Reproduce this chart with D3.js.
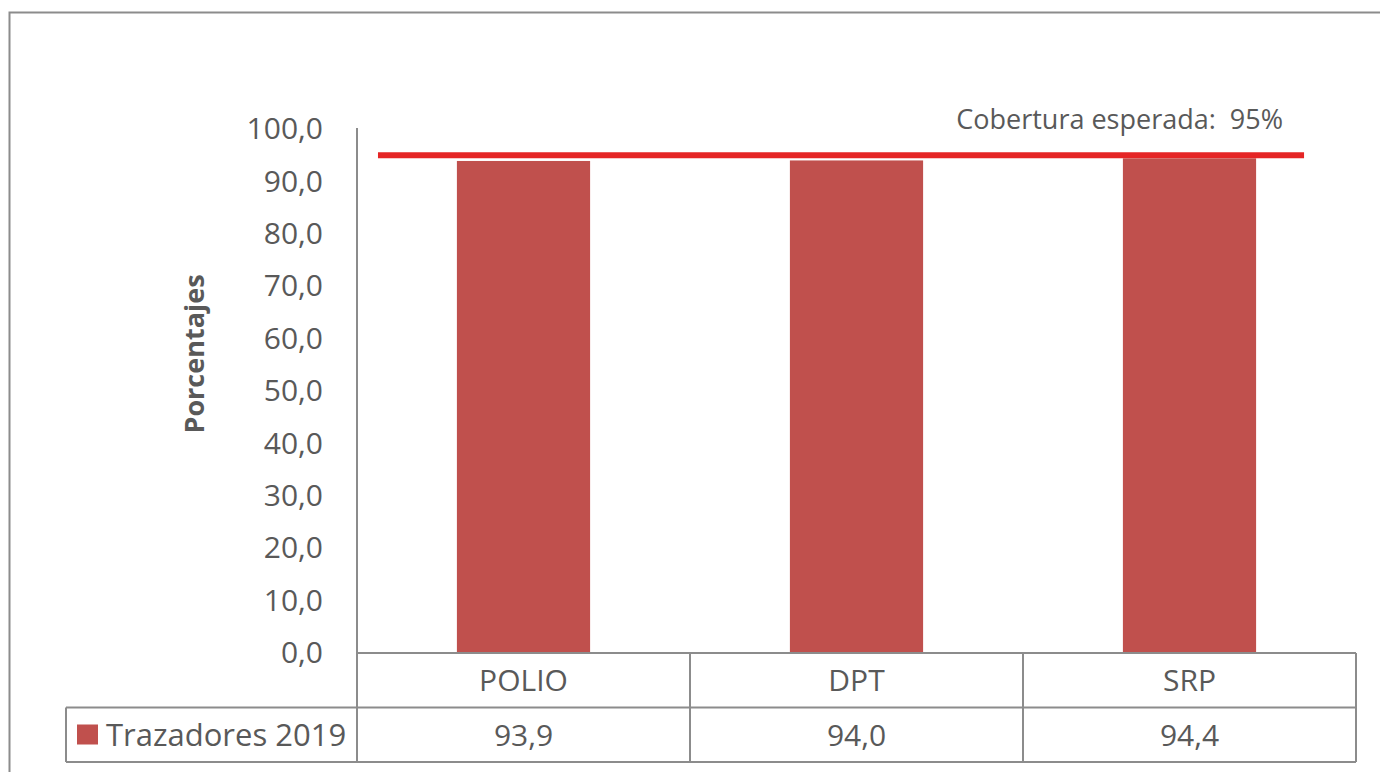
<!DOCTYPE html>
<html>
<head>
<meta charset="utf-8">
<script src="https://cdn.jsdelivr.net/npm/d3@7"></script>
<style>
  body { margin: 0; background: #fff; }
  text { font-family: "Open Sans", sans-serif; fill: #595959; }
</style>
</head>
<body>
<div id="container"></div>
<script>
// DATA
const categories = ["POLIO", "DPT", "SRP"];
const values = [93.9, 94.0, 94.4];
const seriesName = "Trazadores 2019";
const target = 95;
const targetLabel = "Cobertura esperada:  95%";
const yTicks = [0, 10, 20, 30, 40, 50, 60, 70, 80, 90, 100];
const yTitle = "Porcentajes";

const w = 1380, h = 772;
const plot = {left: 357, right: 1356, top: 129, bottom: 653};
const rowH = 54.5;
const tableLeft = 66;
const grey = "#8c8c8c";

const locale = d3.formatLocale({decimal: ",", thousands: ".", grouping: [3], currency: ["", ""]});
const fmt = locale.format(".1f");

const chart = d3.select('#container')
                .append('svg')
                .attr('width', w)
                .attr('height', h);

// outer frame (runs off the right and bottom edges)
chart.append('rect')
     .attr('x', 9.5).attr('y', 12.5)
     .attr('width', w + 20).attr('height', h + 20)
     .attr('fill', 'none')
     .attr('stroke', grey)
     .attr('stroke-width', 2);

// SCALES
const y = d3.scaleLinear().domain([0, 100]).range([plot.bottom, plot.top]);
const x = d3.scaleBand().domain(categories).range([plot.left, plot.right]).paddingInner(0).paddingOuter(0);
const barW = x.bandwidth() * 0.4;

// Y AXIS
const yAxis = d3.axisLeft(y).tickValues(yTicks).tickSize(0).tickPadding(34).tickFormat(fmt);
const yG = chart.append('g')
                .attr('transform', `translate(${plot.left},0)`)
                .call(yAxis);
yG.select('.domain').remove();
yG.selectAll('text')
  .style('font-size', '30px')
  .style('fill', '#595959')
  .style('font-family', '"Open Sans", sans-serif');

chart.append('line')
     .attr('x1', plot.left).attr('x2', plot.left)
     .attr('y1', plot.top - 1).attr('y2', plot.bottom)
     .attr('stroke', grey).attr('stroke-width', 2);

chart.append('text')
     .attr('transform', `translate(204, 354) rotate(-90)`)
     .attr('text-anchor', 'middle')
     .style('font-size', '27px')
     .style('font-weight', 'bold')
     .text(yTitle);

// BARS
chart.selectAll('rect.bar')
     .data(values).enter()
     .append('rect')
     .attr('class', 'bar')
     .attr('x', (d, i) => x(categories[i]) + (x.bandwidth() - barW) / 2)
     .attr('y', d => y(d))
     .attr('width', barW)
     .attr('height', d => y(0) - y(d))
     .attr('fill', '#c0504d');

// TARGET LINE
const lineStart = x(categories[0]) + x.bandwidth() * 0.063;
const lineEnd = x(categories[categories.length - 1]) + x.bandwidth() * 0.844;
chart.append('line')
     .attr('x1', lineStart).attr('x2', lineEnd)
     .attr('y1', y(target)).attr('y2', y(target))
     .attr('stroke', '#e52525')
     .attr('stroke-width', 6);

chart.append('text')
     .attr('x', lineEnd - 21)
     .attr('y', y(target) - 26)
     .attr('text-anchor', 'end')
     .style('font-size', '27px')
     .style('white-space', 'pre')
     .text(targetLabel);

// DATA TABLE
const rows = [plot.bottom, plot.bottom + rowH, plot.bottom + 2 * rowH];
const table = chart.append('g').attr('stroke', grey).attr('stroke-width', 2);
table.append('line').attr('x1', plot.left).attr('x2', plot.right).attr('y1', rows[0]).attr('y2', rows[0]);
table.append('line').attr('x1', tableLeft).attr('x2', plot.right).attr('y1', rows[1]).attr('y2', rows[1]);
table.append('line').attr('x1', tableLeft).attr('x2', plot.right).attr('y1', rows[2]).attr('y2', rows[2]);
table.append('line').attr('x1', tableLeft).attr('x2', tableLeft).attr('y1', rows[1]).attr('y2', rows[2]);
table.selectAll('line.col')
     .data(categories.concat(['end'])).enter()
     .append('line')
     .attr('class', 'col')
     .attr('x1', (d, i) => plot.left + i * x.bandwidth())
     .attr('x2', (d, i) => plot.left + i * x.bandwidth())
     .attr('y1', rows[0]).attr('y2', rows[2]);

chart.selectAll('text.cat')
     .data(categories).enter()
     .append('text')
     .attr('class', 'cat')
     .attr('x', d => x(d) + x.bandwidth() / 2)
     .attr('y', rows[0] + rowH / 2)
     .attr('dy', '0.36em')
     .attr('text-anchor', 'middle')
     .style('font-size', '30px')
     .text(d => d);

chart.selectAll('text.val')
     .data(values).enter()
     .append('text')
     .attr('class', 'val')
     .attr('x', (d, i) => x(categories[i]) + x.bandwidth() / 2)
     .attr('y', rows[1] + rowH / 2)
     .attr('dy', '0.36em')
     .attr('text-anchor', 'middle')
     .style('font-size', '30px')
     .text(d => fmt(d));

// legend key
chart.append('rect')
     .attr('x', 77).attr('y', rows[1] + 17)
     .attr('width', 21).attr('height', 20)
     .attr('fill', '#c0504d');
chart.append('text')
     .attr('x', 106)
     .attr('y', rows[1] + rowH / 2)
     .attr('dy', '0.36em')
     .style('font-size', '31px')
     .text(seriesName);
</script>
</body>
</html>
